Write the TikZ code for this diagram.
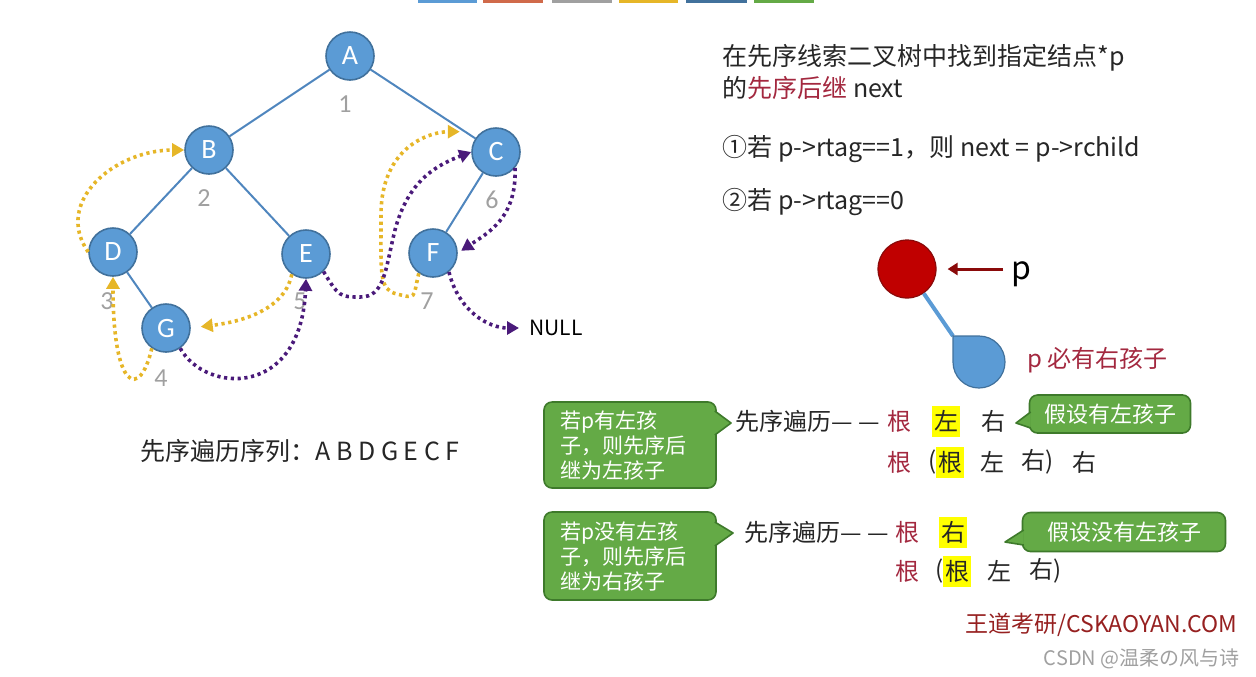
\documentclass[tikz,border=0pt]{standalone}
\usepackage{fontspec}
\setmainfont{Noto Sans CJK SC}
\newfontfamily\calibri{Carlito}
\usetikzlibrary{arrows.meta}
\definecolor{nodeblue}{HTML}{5B9BD5}
\definecolor{nodeborder}{HTML}{41719C}
\definecolor{edgeblue}{HTML}{4F86BE}
\definecolor{numgray}{HTML}{A0A0A0}
\definecolor{threadyellow}{HTML}{E6B628}
\definecolor{threadpurple}{HTML}{4A1A7A}
\definecolor{textblack}{HTML}{262626}
\definecolor{keyred}{HTML}{A3283F}
\definecolor{pred}{HTML}{C00000}
\definecolor{predge}{HTML}{8A0A0A}
\definecolor{bubblegreen}{HTML}{64AA46}
\definecolor{bubbleedge}{HTML}{3E7A2B}
\definecolor{hlyellow}{HTML}{FFFF00}
\definecolor{brandred}{HTML}{962020}
\definecolor{taborange}{HTML}{D06A4A}
\newcommand{\twodash}{—\hspace{0.25em}—}

\begin{document}
\begin{tikzpicture}[x=0.5pt, y=-0.5pt]
  % Styling
  \tikzset{
    treenode/.style={
      circle,
      minimum size=24pt,
      inner sep=0pt,
      fill=nodeblue,
      draw=nodeborder,
      line width=0.8pt,
      text=white,
      font=\calibri\fontsize{14}{16}\selectfont
    },
    treeedge/.style={
      line width=1pt,
      edgeblue
    },
    order/.style={
      text=numgray,
      font=\calibri\fontsize{13}{15}\selectfont
    },
    thread/.style={
      line width=1.8pt,
      dash pattern=on 1.6pt off 1.8pt,
      -{Triangle[length=6pt,width=6.5pt]}
    },
    prethread/.style={thread, threadyellow},
    postthread/.style={thread, threadpurple},
    body/.style={
      anchor=west,
      inner sep=0pt,
      text=textblack,
      font=\fontsize{12.5}{15}\selectfont
    },
    seq/.style={
      inner sep=0pt,
      text=textblack,
      font=\fontsize{12}{14}\selectfont
    },
    root/.style={seq, text=keyred},
    hl/.style={
      fill=hlyellow,
      minimum width=14pt,
      minimum height=15.5pt
    },
    bubble/.style={
      rectangle,
      rounded corners=4pt,
      fill=bubblegreen,
      draw=bubbleedge,
      line width=0.8pt,
      text=white,
      font=\fontsize{10.5}{12.5}\selectfont
    },
    bubbletip/.style={
      fill=bubblegreen,
      draw=bubbleedge,
      line width=0.8pt,
      line join=round
    }
  }

  \useasboundingbox (0,0) rectangle (1256,676);

  % Tabs cut at the top edge
  \fill[nodeblue] (418,-3) rectangle (477,3);
  \fill[taborange] (483,-3) rectangle (543,3);
  \fill[numgray] (552,-3) rectangle (612,3);
  \fill[threadyellow] (619,-3) rectangle (678,3);
  \fill[nodeborder] (686,-3) rectangle (747,3);
  \fill[bubblegreen] (754,-3) rectangle (814,3);

  % ===== Tree =====
  \node[treenode] (A) at (350,56) {A};
  \node[treenode] (B) at (209,150) {B};
  \node[treenode] (C) at (496,152) {C};
  \node[treenode] (D) at (113,252) {D};
  \node[treenode] (E) at (306,254) {E};
  \node[treenode] (F) at (433,253) {F};
  \node[treenode] (G) at (166,328) {G};

  \draw[treeedge] (A) -- (B);
  \draw[treeedge] (A) -- (C);
  \draw[treeedge] (B) -- (D);
  \draw[treeedge] (B) -- (E);
  \draw[treeedge] (C) -- (F);
  \draw[treeedge] (D) -- (G);

  % Preorder numbers
  \node[order] (n1) at (345,104) {1};
  \node[order] (n2) at (204,198) {2};
  \node[order] (n3) at (107,301) {3};
  \node[order] (n4) at (161,378) {4};
  \node[order] (n5) at (300,301) {5};
  \node[order] (n6) at (492,200) {6};
  \node[order] (n7) at (427,301) {7};

  \node[anchor=west, inner sep=0pt, text=black, font=\fontsize{10.5}{12}\selectfont] (null) at (529,328) {NULL};

  % Threads (yellow: predecessor, purple: successor)
  \draw[prethread] (D.west) .. controls +(-35,-50) and +(-70,0) .. (B.west);
  \draw[prethread] (G.235) .. controls +(-12,52) and +(0,114) .. (D.south);
  \draw[prethread, shorten >=5pt] (E.235) .. controls +(-8,40) and +(40,-5) .. (G.east);
  \draw[prethread, shorten >=11pt] (F.235) .. controls +(-6,25) and +(20,5) .. (397,294)
    .. controls +(-18,-4) and +(0,60) .. (381,215)
    .. controls +(0,-70) and +(-50,0) .. (C.125);

  \draw[postthread] (G.-55) .. controls +(25,45) and +(-5,120) .. (E.south);
  \draw[postthread] (E.-45) .. controls +(15,25) and +(-20,0) .. (360,297)
    .. controls +(25,0) and +(-10,40) .. (395,230)
    .. controls +(12,-45) and +(-40,15) .. (C.west);
  \draw[postthread, shorten >=2pt] (C.-40) .. controls +(2,50) and +(30,-20) .. (F.east);
  \draw[postthread, shorten >=5pt] (F.-50) .. controls +(10,40) and +(-40,0) .. (null.west);

  \node[body] (preorder) at (140,451) {先序遍历序列：A B D G E C F};

  % ===== Rules =====
  \node[body] (title1) at (722,58) {在先序线索二叉树中找到指定结点*p};
  \node[body] (title2) at (722,88) {的\textcolor{keyred}{先序后继} next};
  \node[body] (rule1) at (722,149) {①若 p->rtag==1，则 next = p->rchild};
  \node[body] (rule2) at (722,202) {②若 p->rtag==0};

  % Node p and its right child
  \node[circle, minimum size=29pt, inner sep=0pt, fill=pred, draw=predge, line width=0.6pt] (p) at (907,269) {};
  \node[anchor=west, inner sep=0pt, font=\fontsize{16}{18}\selectfont] (plabel) at (1011,274) {p};
  \draw[line width=1.5pt, predge, -{Triangle[length=5pt,width=6pt]}, shorten <=4pt, shorten >=5.5pt] (plabel.west |- p) -- (p.east);
  \coordinate (corner) at (953,336);
  \draw[line width=2pt, nodeblue] (p) -- (corner);
  \filldraw[fill=nodeblue, draw=nodeborder, line width=0.6pt] (corner) -- (979,336) arc[start angle=90, end angle=-180, radius=13pt] -- cycle;
  \node[anchor=west, inner sep=0pt, text=keyred, font=\fontsize{12}{14}\selectfont] (must) at (1027,360) {p 必有右孩子};

  % ===== Case: left child =====
  \node[bubble, text width=70pt, inner xsep=8pt, minimum height=43pt, align=left] (why1) at (630,445) {若p有左孩\\子，则先序后\\继为左孩子};
  \coordinate (why1tip) at (731,423);
  \path[bubbletip] ([xshift=-1pt,yshift=17pt]why1.east) -- (why1tip) -- ([xshift=-1pt,yshift=5pt]why1.east);

  \node[seq, anchor=west] (walk1) at (735,421) {先序遍历\twodash};
  \node[root] (r1root) at (899,421) {根};
  \node[seq, hl] (r1left) at (946,421) {左};
  \node[seq] (r1right) at (993,421) {右};

  \node[bubble, minimum width=80.5pt, minimum height=19pt, font=\fontsize{11}{13}\selectfont] (has) at (1110,414) {假设有左孩子};
  \coordinate (hastip) at (1016,423);
  \path[bubbletip] ([xshift=1pt,yshift=1pt]has.west) -- (hastip) -- ([xshift=1pt,yshift=-7pt]has.west);

  \node[root] (r2root) at (899,462) {根};
  \node[seq] (r2open) at (933,462) {(};
  \node[seq, hl] (r2sub) at (950,462) {根};
  \node[seq] (r2left) at (992,462) {左};
  \node[seq] (r2right) at (1038,462) {右)};
  \node[seq] (r2tail) at (1084,462) {右};

  % ===== Case: no left child =====
  \node[bubble, text width=70pt, inner xsep=8pt, minimum height=44pt, align=left] (why2) at (630,556) {若p没有左孩\\子，则先序后\\继为右孩子};
  \coordinate (why2tip) at (733,533);
  \path[bubbletip] ([xshift=-1pt,yshift=17pt]why2.east) -- (why2tip) -- ([xshift=-1pt,yshift=5pt]why2.east);

  \node[seq, anchor=west] (walk2) at (744,532) {先序遍历\twodash};
  \node[root] (r3root) at (907,532) {根};
  \node[seq, hl] (r3right) at (953,532) {右};

  \node[bubble, minimum width=101.5pt, minimum height=19.5pt, font=\fontsize{11}{13}\selectfont] (hasnot) at (1124,532) {假设没有左孩子};
  \coordinate (hasnottip) at (1005,542);
  \path[bubbletip] ([xshift=1pt,yshift=1pt]hasnot.west) -- (hasnottip) -- ([xshift=1pt,yshift=-6.5pt]hasnot.west);

  \node[root] (r4root) at (907,571) {根};
  \node[seq] (r4open) at (940,571) {(};
  \node[seq, hl] (r4sub) at (957,571) {根};
  \node[seq] (r4left) at (999,571) {左};
  \node[seq] (r4right) at (1046,571) {右)};

  % Footer
  \node[anchor=east, inner sep=0pt, text=brandred, font=\fontsize{11.5}{13}\selectfont] (brand) at (1238,625) {王道考研/CSKAOYAN.COM};
  \node[anchor=east, inner sep=0pt, text=numgray, font=\fontsize{10}{12}\selectfont] (csdn) at (1240,659) {CSDN @温柔の风与诗};

\end{tikzpicture}
\end{document}
